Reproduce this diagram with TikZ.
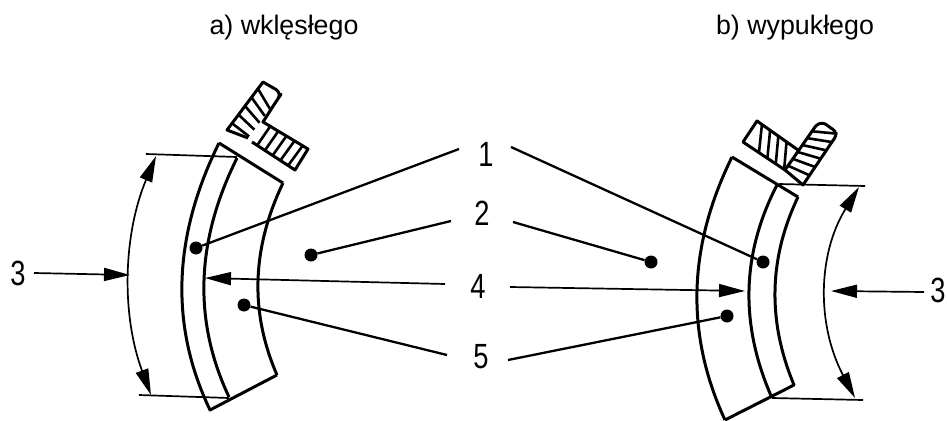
\documentclass[tikz,border=0pt]{standalone}
\usepackage{fontspec}
\setmainfont{Liberation Sans}
\usetikzlibrary{arrows.meta,calc}
\newcommand{\narrow}[1]{\scalebox{0.78}[1]{#1}}
\tikzset{
  body/.style={line width=3pt,line join=round},
  thin line/.style={line width=1.7pt},
  leader/.style={line width=2.3pt},
  hatch/.style={line width=2.6pt},
  dot/.style={circle,fill=black,inner sep=0pt,minimum size=13pt},
  num/.style={font=\fontsize{35}{35}\selectfont,inner sep=0pt},
  title/.style={font=\fontsize{26.8}{27}\selectfont,inner sep=0pt},
  tip/.style={-{Stealth[inset=0pt,length=26pt,width=13pt]}},
  both tips/.style={{Stealth[inset=0pt,length=26pt,width=13pt]}-{Stealth[inset=0pt,length=26pt,width=13pt]}}
}
\begin{document}
\begin{tikzpicture}[x=1pt,y=-1pt]
\useasboundingbox (0,0) rectangle (947,420);

\node[title] (ta) at (284,28) {a) wklęsłego};
\node[title] (tb) at (795,28) {b) wypukłego};

% numbers
\begin{scope}[every node/.style={num}]
    \node (n1) at (486,154) {\narrow{1}};
    \node (n2) at (482,213) {\narrow{2}};
    \node (n4) at (478,286) {\narrow{4}};
    \node (n5) at (481,357) {\narrow{5}};
    \node (n3a) at (18,273) {\narrow{3}};
    \node (n3b) at (938,290) {\narrow{3}};
\end{scope}

% left part
\draw[body] (219,143) -- (283,183);
\draw[body] (219,143) .. controls (172.7,236.7) and (169.7,325.7) .. (210,410) -- (277,375);
\draw[body] (237,158) .. controls (195.7,241) and (193,320.7) .. (229,397);
\draw[body] (283,183) .. controls (251.7,248.3) and (249.7,312.3) .. (277,375);

\coordinate (d1) at (156,156);
\coordinate (d2) at (151,395);
\coordinate (e1) at (146,154);
\coordinate (e2) at (237,157);
\coordinate (e3) at (139,395);
\coordinate (e4) at (229,398);
\draw[thin line] (e1) -- (e2);
\draw[thin line] (e3) -- (e4);
\draw[thin line,both tips] (d1) .. controls (123,235) and (121.3,314.7) .. (d2);

% left bolts
\coordinate (A1) at (227,130);
\coordinate (A2) at (263,82);
\coordinate (A3) at (248,138);
\coordinate (A4) at (277,100);
\coordinate (B1) at (252,142);
\coordinate (B2) at (263,122);
\coordinate (B3) at (308,149);
\coordinate (B4) at (295,170);
\draw[body] (A3) -- (A1) -- (A2) [rounded corners=7pt] -- (282,93) -- (A4) [sharp corners] -- (B2) -- (B3) -- (B4) -- (B1);
\foreach \t in {0.14,0.32,0.5,0.68,0.86}
    \draw[hatch] ($(A1)!\t!(A2)$) -- ($(A3)!\t-0.1!(A4)$);
\foreach \t in {0.12,0.3,0.48,0.66,0.84}
    \draw[hatch] ($(B1)!\t!(B4)$) -- ($(B2)!\t+0.04!(B3)$);

% right part
\draw[body] (732,157) -- (798,197);
\draw[body] (798,197) .. controls (768.7,258.3) and (767.3,321) .. (794,385) -- (725,420);
\draw[body] (732,157) .. controls (687.7,246.7) and (685.3,334.3) .. (725,420);
\draw[body] (777,185) .. controls (741.3,254) and (739.7,325) .. (772,398);

\coordinate (d3) at (859,187);
\coordinate (d4) at (855,398);
\coordinate (e5) at (779,184);
\coordinate (e6) at (865,186);
\coordinate (e7) at (772,398);
\coordinate (e8) at (863,400);
\draw[thin line] (e5) -- (e6);
\draw[thin line] (e7) -- (e8);
\draw[thin line,both tips] (d3) .. controls (817.7,254) and (816.3,324.3) .. (d4);

% right bolts
\coordinate (C1) at (743,142);
\coordinate (C2) at (757,121);
\coordinate (C3) at (798,150);
\coordinate (C4) at (785,170);
\coordinate (D1) at (785,170);
\coordinate (D2) at (815,127);
\coordinate (D3) at (803,185);
\coordinate (D4) at (838,133);
\draw[body] (C4) -- (C1) -- (C2) -- (C3);
\draw[body] (D1) -- (D2) [rounded corners=6pt] -- (821,121) -- (D4) [sharp corners] -- (D3) -- cycle;
\foreach \t in {0.12,0.32,0.52,0.72}
    \draw[hatch] ($(C2)!\t!(C3)$) -- ($(C1)!\t+0.26!(C4)$);
\foreach \t in {0.1,0.26,0.42,0.58,0.74,0.9}
    \draw[hatch] ($(D1)!\t!(D2)$) -- ($(D3)!\t+0.086!(D4)$);

% leaders
\coordinate (l1) at (459,149);
\coordinate (r1) at (511,147);
\coordinate (l2) at (451,221);
\coordinate (r2) at (513,222);
\coordinate (l4) at (445,284);
\coordinate (r4) at (510,287);
\coordinate (l5) at (447,355);
\coordinate (r5) at (508,360);
\node[dot] (p1) at (196,248) {};
\node[dot] (q1) at (763,262) {};
\node[dot] (p2) at (311,255) {};
\node[dot] (q2) at (651,262) {};
\node[dot] (p5) at (244,305) {};
\node[dot] (q5) at (727,316) {};
\coordinate (a4) at (205,278);
\coordinate (b4) at (745,291);
\coordinate (a3) at (130,275);
\coordinate (b3) at (831,291);
\coordinate (s3a) at (34,273);
\coordinate (s3b) at (924,292);

\draw[leader] (l1) -- (p1);
\draw[leader] (r1) -- (q1);
\draw[leader] (l2) -- (p2);
\draw[leader] (r2) -- (q2);
\draw[leader] (l5) -- (p5);
\draw[leader] (r5) -- (q5);
\begin{scope}[thin line]
    \draw[tip] (l4) -- (a4);
    \draw[tip] (r4) -- (b4);
    \draw[tip] (s3a) -- (a3);
    \draw[tip] (s3b) -- (b3);
\end{scope}
\end{tikzpicture}
\end{document}
